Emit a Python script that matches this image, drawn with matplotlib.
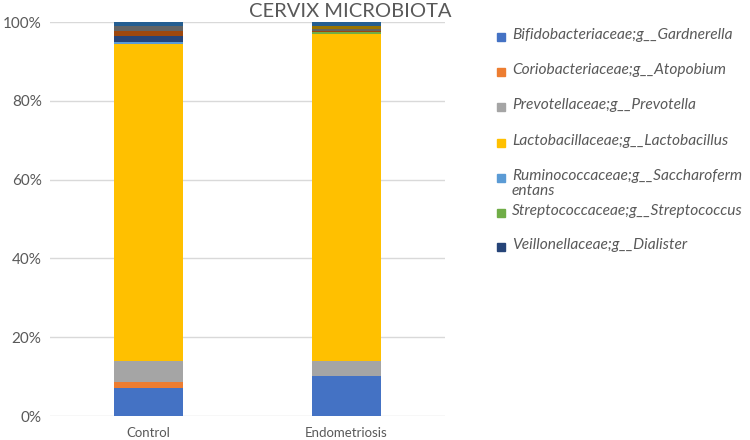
import numpy as np
import matplotlib.pyplot as plt
from matplotlib.patches import Rectangle

groups = ['Control', 'Endometriosis']

taxa = ['Bifidobacteriaceae;g__Gardnerella',
        'Coriobacteriaceae;g__Atopobium',
        'Prevotellaceae;g__Prevotella',
        'Lactobacillaceae;g__Lactobacillus',
        'Ruminococcaceae;g__Saccharoferm\nentans',
        'Streptococcaceae;g__Streptococcus',
        'Veillonellaceae;g__Dialister']

# relative abundance (%) per taxon: [Control, Endometriosis]
gardnerella = [7.2, 10.2]
atopobium = [1.5, 0.0]
prevotella = [5.3, 3.7]
lactobacillus = [80.5, 83.1]
saccharofermentans = [0.4, 0.0]
streptococcus = [0.1, 0.4]
dialister = [1.35, 0.1]
# further taxa, not shown in the legend
other_8 = [1.45, 0.1]
other_9 = [1.1, 0.5]
other_10 = [0.0, 0.8]
other_11 = [1.1, 1.1]

series = [gardnerella, atopobium, prevotella, lactobacillus, saccharofermentans,
          streptococcus, dialister, other_8, other_9, other_10, other_11]
colors = ['#4472C4', '#ED7D31', '#A5A5A5', '#FFC000', '#5B9BD5', '#70AD47',
          '#264478', '#9E480E', '#636363', '#997300', '#255E91']

plt.rcParams['font.family'] = ['Lato', 'DejaVu Sans']
txt = '#595959'
W, H = 750, 440

fig = plt.figure(figsize=(7.5, 4.4), dpi=100)
ax = fig.add_axes([50/W, 1-416/H, 395/W, 394/H])

x = np.arange(len(groups))
bottom = np.zeros(len(groups))
for vals, c in zip(series, colors):
    ax.bar(x, vals, 0.35, bottom=bottom, color=c, zorder=3)
    bottom += np.array(vals)

ax.set_xlim(-0.5, 1.5)
ax.set_ylim(0, 100)
ax.set_yticks(np.arange(0, 101, 20))
ax.set_yticklabels([f'{v}%' for v in range(0, 101, 20)], color=txt, fontsize=11)
ax.set_xticks(x)
ax.set_xticklabels(groups, color=txt, fontsize=9.5)
ax.tick_params(length=0, pad=8)
ax.tick_params(axis='y', pad=6)
ax.grid(axis='y', color='#D9D9D9', linewidth=1, zorder=0)
for s in ax.spines.values():
    s.set_visible(False)

fig.text(350/W, 1-17/H, 'CERVIX MICROBIOTA', ha='center', va='baseline',
         fontsize=14.5, color=txt)

# legend drawn by hand to mimic the uneven Excel spacing
ys = [37, 72, 107, 143, 178, 213, 247]
for label, c, yy in zip(taxa, colors, ys):
    fig.patches.append(Rectangle((497/W, 1-(yy+4)/H), 8/W, 8/H,
                                 transform=fig.transFigure, color=c))
    fig.text(512/W, 1-(yy-9)/H, label, ha='left', va='top', fontsize=11.2,
             style='italic', color=txt, linespacing=1.05)

fig.savefig('out.png', dpi=100)
